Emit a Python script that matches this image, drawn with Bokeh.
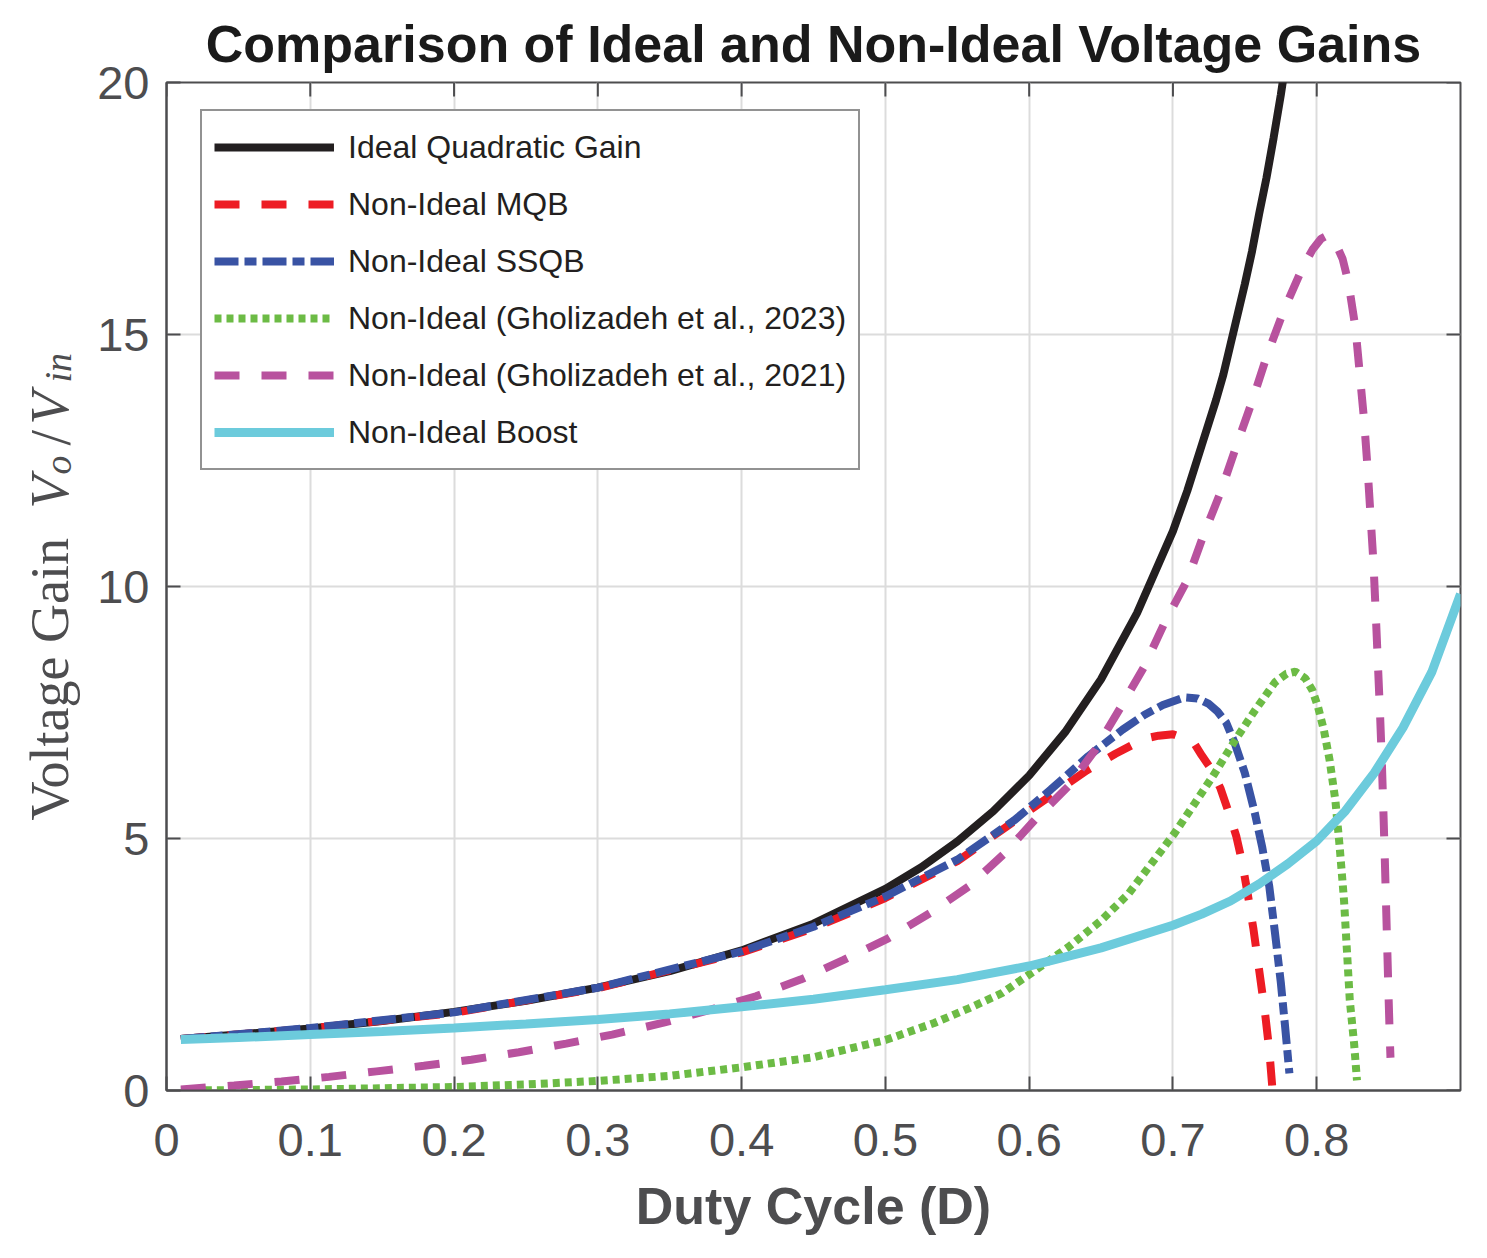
from bokeh.plotting import figure
from bokeh.layouts import row
from bokeh.models import Range1d, FixedTicker, Legend, LegendItem, Label
from bokeh.embed import file_html
from bokeh.resources import INLINE

# Values (duty cycle D, gain Vo/Vin)
ideal_d = [0.01, 0.05, 0.1, 0.15, 0.2, 0.25, 0.3, 0.35, 0.4, 0.45, 0.5, 0.525,
           0.55, 0.575, 0.6, 0.625, 0.65, 0.675, 0.7, 0.71, 0.72, 0.73, 0.735,
           0.74, 0.745, 0.75, 0.755, 0.76, 0.765, 0.77, 0.775, 0.78]
ideal_g = [1.02, 1.11, 1.23, 1.38, 1.56, 1.78, 2.04, 2.37, 2.78, 3.31, 4.0, 4.43,
           4.94, 5.54, 6.25, 7.11, 8.16, 9.47, 11.1, 11.9, 12.8, 13.7, 14.2,
           14.8, 15.4, 16.0, 16.65, 17.4, 18.1, 18.9, 19.75, 20.7]

mqb_d = [0.01, 0.1, 0.2, 0.3, 0.4, 0.45, 0.5, 0.55, 0.58, 0.61, 0.64, 0.66,
         0.68, 0.69, 0.70, 0.71, 0.715, 0.72, 0.727, 0.733, 0.739, 0.744, 0.748,
         0.752, 0.756, 0.760, 0.764, 0.767, 0.769]
mqb_g = [1.02, 1.23, 1.54, 2.03, 2.74, 3.22, 3.82, 4.55, 5.15, 5.75, 6.35, 6.68,
         6.98, 7.04, 7.07, 6.97, 6.88, 6.65, 6.36, 6.0, 5.5, 5.05, 4.55,
         3.9, 3.2, 2.38, 1.55, 0.8, 0.1]

ssqb_d = [0.01, 0.1, 0.2, 0.3, 0.4, 0.45, 0.5, 0.55, 0.59, 0.615, 0.641, 0.665,
          0.68, 0.693, 0.708, 0.717, 0.725, 0.731, 0.737, 0.743, 0.750, 0.757,
          0.762, 0.767, 0.771, 0.775, 0.778, 0.781]
ssqb_g = [1.02, 1.24, 1.55, 2.04, 2.76, 3.25, 3.85, 4.58, 5.37, 5.97, 6.63, 7.16,
          7.45, 7.65, 7.80, 7.78, 7.67, 7.52, 7.30, 6.89, 6.30, 5.50,
          4.84, 4.05, 3.12, 2.15, 1.27, 0.34]

g23_d = [0.01, 0.1, 0.2, 0.25, 0.3, 0.35, 0.4, 0.45, 0.5, 0.534, 0.558, 0.581,
         0.604, 0.627, 0.65, 0.669, 0.685, 0.701, 0.715, 0.729, 0.743, 0.757,
         0.771, 0.779, 0.785, 0.792, 0.797, 0.801, 0.805, 0.809, 0.813, 0.816,
         0.819, 0.821, 0.823, 0.826, 0.828]
g23_g = [0.0, 0.02, 0.07, 0.12, 0.19, 0.29, 0.46, 0.66, 1.0, 1.34, 1.63, 1.93,
         2.38, 2.84, 3.37, 3.9, 4.5, 5.1, 5.69, 6.29, 6.94, 7.54,
         8.1, 8.27, 8.31, 8.18, 7.94, 7.6, 7.15, 6.55, 5.75, 4.82,
         3.77, 2.78, 1.79, 0.93, 0.2]

g21_d = [0.01, 0.047, 0.08, 0.113, 0.146, 0.179, 0.212, 0.245, 0.278, 0.31,
         0.345, 0.378, 0.41, 0.441, 0.471, 0.502, 0.531, 0.558, 0.582, 0.604,
         0.627, 0.646, 0.664, 0.68, 0.694, 0.71, 0.721, 0.733, 0.744, 0.755,
         0.765, 0.777, 0.79, 0.797, 0.803, 0.807, 0.81, 0.813, 0.818, 0.822,
         0.827, 0.830, 0.833, 0.8355, 0.8375, 0.8395, 0.841, 0.8425, 0.844,
         0.8452, 0.8462, 0.8472, 0.8481, 0.849, 0.8499, 0.8509, 0.8513]
g21_g = [0.02, 0.10, 0.18, 0.27, 0.38, 0.49, 0.61, 0.76, 0.93, 1.11,
         1.34, 1.60, 1.87, 2.20, 2.59, 3.02, 3.52, 4.05, 4.68, 5.37,
         6.03, 6.76, 7.62, 8.41, 9.27, 10.13, 11.0, 11.86, 12.78, 13.67,
         14.55, 15.47, 16.32, 16.68, 16.9, 16.96, 16.92, 16.82, 16.5, 16.04,
         15.12, 14.2, 13.28, 12.29, 11.37, 10.45, 9.5, 8.5, 7.5,
         6.6, 5.7, 4.76, 3.82, 2.88, 1.93, 0.97, 0.65]

boost_d = [0.01, 0.05, 0.1, 0.15, 0.2, 0.25, 0.3, 0.35, 0.4, 0.45, 0.5, 0.55,
           0.6, 0.65, 0.7, 0.72, 0.74, 0.76, 0.78, 0.8, 0.82, 0.84, 0.86, 0.88,
           0.9]
boost_g = [1.01, 1.05, 1.11, 1.17, 1.24, 1.32, 1.41, 1.52, 1.66, 1.81, 2.0, 2.2,
           2.47, 2.83, 3.28, 3.5, 3.76, 4.1, 4.5, 4.95, 5.55, 6.3, 7.2, 8.3,
           9.85]

x_ticks = [0, 0.1, 0.2, 0.3, 0.4, 0.5, 0.6, 0.7, 0.8]
y_ticks = [0, 5, 10, 15, 20]
x_lo, x_hi = 0, 0.9
y_lo, y_hi = 0, 20

AX = "#4d4d4f"
FONT = "Liberation Sans"
H = 1258
LW = 86                      # width of the strip holding the y-axis title
W = 1480 - LW
BL, BR, BT, BB = 80, 20, 82, 168

yr = Range1d(y_lo, y_hi)
p = figure(width=W, height=H, output_backend="svg", toolbar_location=None,
           x_range=Range1d(x_lo, x_hi), y_range=yr,
           min_border_left=BL, min_border_right=BR, min_border_top=BT,
           min_border_bottom=BB)
p.outline_line_color = AX
p.outline_line_width = 2
p.background_fill_color = "white"

# Title
p.title.text = "Comparison of Ideal and Non-Ideal Voltage Gains"
p.title.align = "center"
p.title.text_font = FONT
p.title.text_font_size = "52px"
p.title.text_font_style = "bold"
p.title.text_color = "#1a1a1a"
p.title.standoff = 20

# Axes (MATLAB box style, ticks pointing inward)
for ax in [p.xaxis[0], p.yaxis[0]]:
    ax.axis_line_color = AX
    ax.axis_line_width = 2
    ax.major_tick_line_color = AX
    ax.major_tick_line_width = 2
    ax.major_tick_in = 14
    ax.major_tick_out = 0
    ax.minor_tick_line_color = None
    ax.major_label_text_font = FONT
    ax.major_label_text_font_size = "47px"
    ax.major_label_text_color = AX

p.xaxis.ticker = FixedTicker(ticks=x_ticks)
p.yaxis.ticker = FixedTicker(ticks=y_ticks)
p.xaxis.major_label_standoff = 33
p.yaxis.major_label_standoff = 17

p.xaxis.axis_label = "Duty Cycle (D)"
p.xaxis.axis_label_text_font = FONT
p.xaxis.axis_label_text_font_size = "52px"
p.xaxis.axis_label_text_font_style = "bold"
p.xaxis.axis_label_text_color = AX
p.xaxis.axis_label_standoff = 18

# Grid
p.grid.grid_line_color = "#dcdcdc"
p.grid.grid_line_width = 2
p.xgrid.ticker = FixedTicker(ticks=x_ticks)
p.ygrid.ticker = FixedTicker(ticks=y_ticks)

# Inward ticks on the top and right edges of the box (14 px long)
fw = W - BL - BR
fh = H - BT - BB
tx = 14 * (x_hi - x_lo) / fw
ty = 14 * (y_hi - y_lo) / fh
p.segment(x0=x_ticks, y0=[y_hi] * len(x_ticks), x1=x_ticks,
          y1=[y_hi - ty] * len(x_ticks), line_color=AX, line_width=2)
p.segment(x0=[x_hi] * len(y_ticks), y0=y_ticks, x1=[x_hi - tx] * len(y_ticks),
          y1=y_ticks, line_color=AX, line_width=2)

# Curves
r_ideal = p.line(ideal_d, ideal_g, line_color="#231f20", line_width=8)
r_mqb = p.line(mqb_d, mqb_g, line_color="#ed1c24", line_width=8,
               line_dash="25 22")
r_ssqb = p.line(ssqb_d, ssqb_g, line_color="#3953a4", line_width=8,
                line_dash="24 6 12 6")
r_g23 = p.line(g23_d, g23_g, line_color="#6cbb45", line_width=8,
               line_dash="7 5")
r_g21 = p.line(g21_d, g21_g, line_color="#b8529e", line_width=8,
               line_dash="25 22")
r_boost = p.line(boost_d, boost_g, line_color="#6ccbdc", line_width=9)

legend = Legend(items=[
    LegendItem(label="Ideal Quadratic Gain", renderers=[r_ideal]),
    LegendItem(label="Non-Ideal MQB", renderers=[r_mqb]),
    LegendItem(label="Non-Ideal SSQB", renderers=[r_ssqb]),
    LegendItem(label="Non-Ideal (Gholizadeh et al., 2023)", renderers=[r_g23]),
    LegendItem(label="Non-Ideal (Gholizadeh et al., 2021)", renderers=[r_g21]),
    LegendItem(label="Non-Ideal Boost", renderers=[r_boost]),
], location=(34, 620))
legend.label_text_font = FONT
legend.label_text_font_size = "32px"
legend.label_text_color = "#231f20"
legend.glyph_width = 120
legend.glyph_height = 48
legend.label_height = 48
legend.label_standoff = 14
legend.spacing = 9
legend.padding = 12
legend.margin = 0
legend.border_line_color = "#262626"
legend.border_line_width = 2
legend.background_fill_alpha = 1
p.add_layout(legend, "center")

# Strip at the left for the y-axis title: upright words, italic V_o / V_in.
# The strip shares the gain range, so its frame lines up with the plot's;
# x is in pixels across the strip, y offsets are pixels above the x axis.
ylab = [("Voltage Gain", "normal", "54px", 49, 270),
        ("V", "italic", "54px", 49, 582),
        ("o", "italic", "38px", 57, 616),
        ("/", "normal", "56px", 50, 645),
        ("V", "italic", "54px", 49, 666),
        ("in", "italic", "38px", 57, 708)]

side = figure(width=LW, height=H, output_backend="svg", toolbar_location=None,
              x_range=Range1d(0, LW), y_range=yr,
              x_axis_location=None, y_axis_location=None,
              min_border_left=0, min_border_right=0, min_border_top=BT,
              min_border_bottom=BB)
side.outline_line_color = None
side.grid.visible = False
px_y = (y_hi - y_lo) / fh
for txt, style, size, lx, oy in ylab:
    side.add_layout(Label(x=lx, y=y_lo + oy * px_y, text=txt, angle=90,
                          angle_units="deg", text_font="Liberation Serif",
                          text_font_style=style, text_font_size=size,
                          text_color=AX, text_align="left",
                          text_baseline="alphabetic"))

layout = row(side, p)
open("out.html", "w").write(file_html(layout, INLINE))
